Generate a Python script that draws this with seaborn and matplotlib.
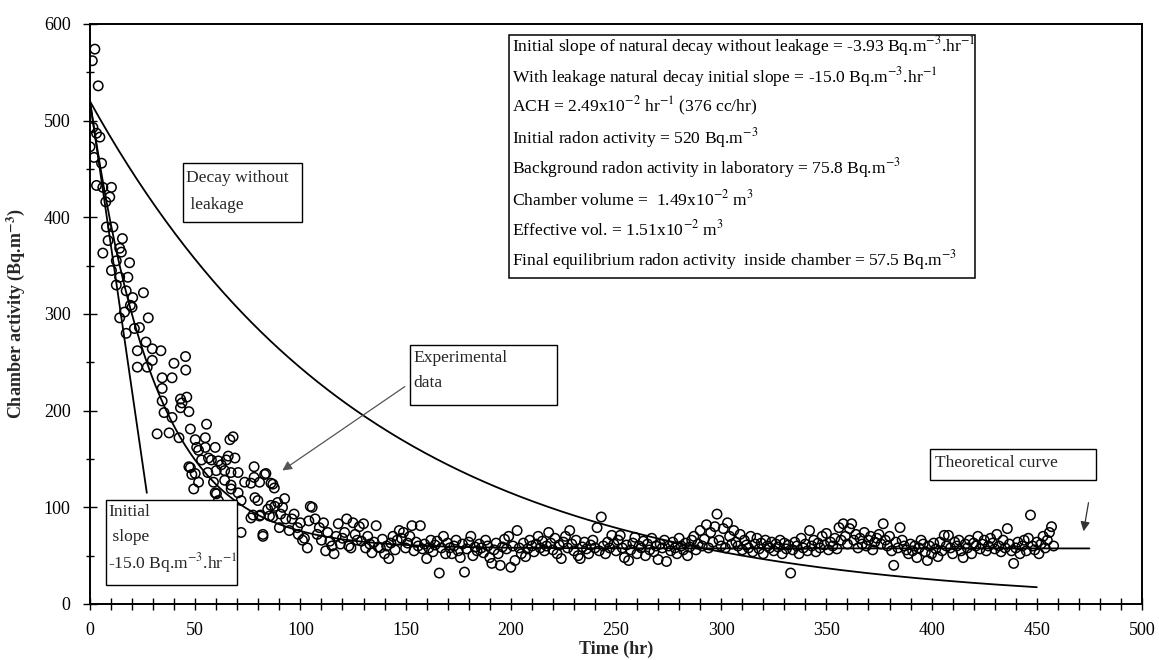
import numpy as np
import pandas as pd
import matplotlib
matplotlib.use("Agg")
import matplotlib.pyplot as plt
import seaborn as sns
from matplotlib.patches import Rectangle
from matplotlib.ticker import MultipleLocator

# ---------------- data ----------------
# early, fast-decaying part of the experimental record (hr, Bq.m^-3)
early_time = [0, 1.1, 1.4, 1.9, 2.3, 3.1, 3.1, 3.9, 4.7, 5.5, 6.1, 6.1, 7.5, 7.8, 8.6, 9.4,
              10.2, 10.2, 10.9, 12.5, 12.5, 14.1, 14.1, 14.1, 14.9, 15.4, 16.4, 17.2, 17.2,
              18.0, 18.8, 19.2, 20.0, 20.3, 21.1, 22.5, 22.5, 23.5, 25.4, 26.6, 27.2, 27.7,
              29.6, 29.6, 31.9, 33.7, 34.3, 34.3, 34.3, 35.2, 37.6, 39.0, 39.0, 39.9, 42.3,
              43.0, 43.0, 43.7, 45.4, 45.5, 46.0, 47.0, 47.0, 47.7, 47.7, 48.4, 49.3, 50.0,
              50.0, 50.7, 51.6, 51.6, 53.0, 54.8, 54.8, 55.4, 56.0, 56.3, 57.7, 58.7, 59.5,
              59.5, 60.0, 60.1, 61.0, 61.0, 62.4, 64.0, 64.0, 64.8, 65.7, 66.5, 67.0, 67.0,
              67.1, 68.0, 68.9, 70.4, 70.4, 71.8, 71.8, 73.5, 76.5, 76.5, 77.5, 78.0, 78.0,
              78.4, 79.8, 80.6, 80.6, 81.0, 82.2, 82.2, 83.0, 83.6, 84.5, 85.3, 86.0, 86.0,
              86.9, 86.9, 87.6, 87.8, 89.2, 90.0, 90.6, 91.5, 92.5, 93.0, 94.7, 96.0, 97.0,
              98.6, 99.0, 100.0, 101.0, 101.9, 103.3, 104.0, 104.7, 105.6]
early_activity = [473, 562, 493, 462, 574, 487, 433, 536, 483, 456, 431, 363, 416, 390, 376, 421,
                  431, 345, 390, 355, 330, 368, 338, 296, 364, 378, 302, 324, 280,
                  338, 353, 309, 307, 317, 285, 262, 245, 286, 322, 271, 245, 296,
                  264, 252, 176, 262, 234, 223, 210, 198, 177, 234, 193, 249, 172,
                  212, 203, 208, 256, 242, 214, 199, 142, 181, 141, 134, 119, 170,
                  135, 162, 126, 159, 149, 172, 162, 186, 136, 151, 149, 126, 162,
                  115, 138, 114, 148, 107, 144, 138, 128, 149, 153, 170, 123, 136,
                  119, 173, 151, 115, 136, 107, 74, 126, 125, 89, 92, 142, 131,
                  110, 107, 126, 91, 92, 72, 70, 134, 135, 98, 91, 125, 102,
                  124, 90, 120, 101, 105, 79, 93, 100, 109, 88, 76, 88, 93,
                  79, 72, 84, 66, 68, 58, 86, 101, 100]

# later, near-equilibrium part: one reading per hour from 107 hr to 458 hr
late_start_hr, late_end_hr = 107, 458
late_activity = [
    88, 72, 79, 66, 84, 55, 74, 65, 60, 52,
    70, 83, 62, 68, 74, 88, 60, 58, 84, 72,
    66, 80, 65, 83, 58, 70, 62, 53, 64, 81,
    59, 58, 67, 52, 60, 47, 63, 70, 56, 66,
    76, 68, 74, 58, 63, 70, 81, 55, 64, 60,
    81, 57, 62, 47, 58, 66, 54, 61, 65, 32,
    58, 70, 52, 63, 58, 52, 60, 66, 55, 48,
    62, 33, 57, 64, 70, 50, 59, 55, 62, 58,
    53, 66, 60, 48, 42, 56, 63, 52, 40, 59,
    67, 57, 70, 38, 60, 45, 76, 58, 52, 63,
    49, 57, 66, 60, 54, 62, 70, 58, 65, 55,
    60, 74, 63, 56, 68, 52, 61, 47, 64, 70,
    58, 76, 62, 55, 66, 50, 47, 59, 64, 57,
    52, 61, 66, 58, 79, 55, 90, 60, 52, 64,
    58, 71, 62, 55, 66, 71, 58, 48, 61, 45,
    56, 63, 69, 52, 60, 58, 65, 50, 62, 56,
    68, 54, 60, 46, 62, 58, 66, 44, 60, 55,
    64, 58, 52, 68, 60, 56, 63, 50, 59, 66,
    70, 56, 62, 76, 60, 67, 82, 58, 74, 64,
    80, 93, 66, 60, 78, 58, 84, 70, 62, 76,
    64, 60, 72, 56, 66, 61, 58, 70, 54, 62,
    68, 57, 63, 52, 66, 60, 58, 64, 55, 62,
    59, 66, 52, 63, 57, 61, 32, 56, 64, 60,
    52, 68, 58, 62, 55, 76, 60, 66, 54, 63,
    58, 70, 61, 73, 56, 64, 60, 68, 57, 79,
    66, 83, 70, 62, 78, 83, 66, 72, 58, 68,
    62, 74, 60, 66, 70, 56, 64, 68, 72, 62,
    83, 66, 60, 70, 55, 40, 64, 58, 79, 66,
    60, 56, 52, 62, 55, 60, 48, 58, 66, 62,
    54, 45, 60, 52, 63, 57, 49, 64, 55, 71,
    60, 71, 58, 52, 64, 60, 66, 55, 48, 62,
    58, 66, 52, 63, 60, 70, 57, 62, 66, 55,
    60, 68, 63, 57, 72, 60, 54, 66, 58, 78,
    62, 55, 42, 58, 64, 52, 60, 66, 55, 68,
    92, 60, 56, 64, 52, 62, 70, 58, 66, 74,
    80, 60]

# model parameters (from the text box)
initial_activity = 520.0          # Bq.m^-3
radon_decay_const = 0.00755       # hr^-1  (initial slope -3.93 Bq.m^-3.hr^-1)
ach = 0.0249                      # hr^-1
equilibrium_activity = 57.5       # Bq.m^-3
initial_slope = -15.0             # Bq.m^-3.hr^-1
decay_end_hr = 450
theory_end_hr = 475
slope_line_end_hr = 27

x_ticks = [0, 50, 100, 150, 200, 250, 300, 350, 400, 450, 500]
y_ticks = [0, 100, 200, 300, 400, 500, 600]

info_lines = [
    r"Initial slope of natural decay without leakage = -3.93 Bq.m$^{-3}$.hr$^{-1}$",
    r"With leakage natural decay initial slope = -15.0 Bq.m$^{-3}$.hr$^{-1}$",
    r"ACH = 2.49x10$^{-2}$ hr$^{-1}$ (376 cc/hr)",
    r"Initial radon activity = 520 Bq.m$^{-3}$",
    r"Background radon activity in laboratory = 75.8 Bq.m$^{-3}$",
    r"Chamber volume =  1.49x10$^{-2}$ m$^{3}$",
    r"Effective vol. = 1.51x10$^{-2}$ m$^{3}$",
    r"Final equilibrium radon activity  inside chamber = 57.5 Bq.m$^{-3}$",
]

# ---------------- build tables ----------------
late_time = np.arange(late_start_hr, late_end_hr + 1)
exp_df = pd.DataFrame({
    "time": np.concatenate([early_time, late_time]).astype(float),
    "activity": np.concatenate([early_activity, late_activity]).astype(float),
})

t_decay = np.linspace(0, decay_end_hr, 400)
decay_df = pd.DataFrame({"time": t_decay,
                         "activity": initial_activity * np.exp(-radon_decay_const * t_decay)})
t_th = np.linspace(0, theory_end_hr, 400)
k_total = radon_decay_const + ach
theory_df = pd.DataFrame({"time": t_th,
                          "activity": equilibrium_activity + (initial_activity - equilibrium_activity)
                          * np.exp(-k_total * t_th)})
t_sl = np.array([0, slope_line_end_hr], dtype=float)
slope_df = pd.DataFrame({"time": t_sl, "activity": initial_activity + initial_slope * t_sl})

# ---------------- plotting ----------------
sns.set_theme(style="white")
plt.rcParams["font.family"] = ["Liberation Serif", "DejaVu Serif"]
plt.rcParams["mathtext.fontset"] = "stix"

fig = plt.figure(figsize=(11.59, 6.6), dpi=100)
ax = fig.add_axes([90 / 1159, 56 / 660, 1052 / 1159, 580 / 660])

line_kw = dict(color="black", linewidth=1.3, estimator=None, sort=False, legend=False)
sns.lineplot(data=decay_df, x="time", y="activity", ax=ax, **line_kw)
sns.lineplot(data=theory_df, x="time", y="activity", ax=ax, **line_kw)
sns.lineplot(data=slope_df, x="time", y="activity", ax=ax, **line_kw)
sns.scatterplot(data=exp_df, x="time", y="activity", ax=ax, marker="o", s=46,
                facecolors="none", edgecolor="black", linewidth=1.1, legend=False, zorder=3)

ax.set_xlim(0, 500)
ax.set_ylim(0, 600)
ax.set_xticks(x_ticks)
ax.set_yticks(y_ticks)
ax.xaxis.set_minor_locator(MultipleLocator(10))
ax.yaxis.set_minor_locator(MultipleLocator(50))
ax.tick_params(axis="both", which="both", direction="inout", color="black",
               labelsize=13, labelcolor="black", bottom=True, left=True)
ax.tick_params(axis="x", which="both", length=8, width=1.0, pad=9)
ax.tick_params(axis="y", which="major", length=10, width=1.0, pad=9)
ax.tick_params(axis="y", which="minor", length=6, width=1.0)
for sp in ax.spines.values():
    sp.set_visible(True)
    sp.set_color("black")
    sp.set_linewidth(1.4)

ax.set_xlabel("Time (hr)", fontsize=13, fontweight="bold", labelpad=1)
ax.set_ylabel(r"Chamber activity (Bq.m$^{\mathbf{-3}}$)", fontsize=13, fontweight="bold", labelpad=12)

FS = 12.6
# --- information box ---
ax.add_patch(Rectangle((199.1, 337.2), 221.5, 251.4, fill=False, edgecolor="black", lw=1.1, zorder=4))
info_y = [577.4, 545.3, 514.3, 482.2, 451.2, 418.1, 387.1, 356.1]
for yy, txt in zip(info_y, info_lines):
    ax.text(200.6, yy, txt, fontsize=FS, va="center", ha="left", color="black", zorder=5)

# --- "Decay without leakage" ---
ax.add_patch(Rectangle((44.2, 395.2), 56.6, 61.0, fill=False, edgecolor="black", lw=1.0, zorder=4))
ax.text(45.6, 440.7, "Decay without", fontsize=FS, va="center", ha="left")
ax.text(45.6, 412.8, " leakage", fontsize=FS, va="center", ha="left")

# --- "Experimental data" ---
ax.add_patch(Rectangle((152.1, 205.9), 69.9, 62.1, fill=False, edgecolor="black", lw=1.0, zorder=4))
ax.text(153.6, 254.5, "Experimental", fontsize=FS, va="center", ha="left")
ax.text(153.6, 228.6, "data", fontsize=FS, va="center", ha="left")
ax.annotate("", xy=(90.3, 136.5), xytext=(150.7, 226.5),
            arrowprops=dict(arrowstyle="-|>", color="#555555", lw=0.9, mutation_scale=14))

# --- "Initial slope" ---
ax.add_patch(Rectangle((7.6, 19.7), 62.3, 87.9, facecolor="white", edgecolor="black", lw=1.0, zorder=4))
ax.text(8.6, 95.2, "Initial", fontsize=FS, va="center", ha="left", zorder=5)
ax.text(8.6, 69.3, " slope", fontsize=FS, va="center", ha="left", zorder=5)
ax.text(8.6, 42.4, r"-15.0 Bq.m$^{-3}$.hr$^{-1}$", fontsize=FS, va="center", ha="left", zorder=5)

# --- "Theoretical curve" ---
ax.add_patch(Rectangle((399.2, 128.3), 78.9, 32.0, fill=False, edgecolor="black", lw=1.0, zorder=4))
ax.text(401.8, 145.4, "Theoretical curve", fontsize=FS, va="center", ha="left")
ax.annotate("", xy=(472.0, 72.4), xytext=(474.8, 107.6),
            arrowprops=dict(arrowstyle="-|>", color="#333333", lw=0.9, mutation_scale=14))

fig.savefig("out.png", dpi=100)
